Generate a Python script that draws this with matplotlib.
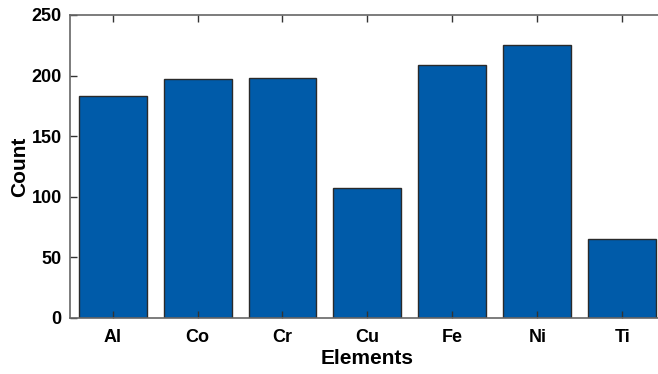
import matplotlib

matplotlib.use("Agg", force=True)
import matplotlib.pyplot as plt

elements = ["Al", "Co", "Cr", "Cu", "Fe", "Ni", "Ti"]
counts = [183, 197, 198, 107, 209, 225, 65]
y_ticks = [0, 50, 100, 150, 200, 250]

plt.rcParams["font.family"] = ["Liberation Sans", "DejaVu Sans"]
plt.rcParams["font.weight"] = "bold"

fig = plt.figure(figsize=(6.58, 3.74), dpi=100)
ax = fig.add_axes([0.1064, 0.1505, 0.9042, 0.8094])

positions = list(range(1, len(elements) + 1))
ax.bar(positions, counts, width=0.8, color="#005BA9", edgecolor="#2a2a2a", linewidth=1.0)

ax.set_xlim(0.5, len(elements) + 0.5)
ax.set_ylim(0, 250)
ax.set_xticks(positions)
ax.set_xticklabels(elements)
ax.set_yticks(y_ticks)

ax.tick_params(axis="both", direction="in", length=5, width=1, color="#333333",
               labelsize=13)
ax.tick_params(axis="x", top=True, pad=8)
ax.tick_params(axis="y", pad=6)
for label in ax.get_xticklabels() + ax.get_yticklabels():
    label.set_fontweight("bold")

for spine in ax.spines.values():
    spine.set_color("#666666")
    spine.set_linewidth(1.2)

ax.set_xlabel("Elements", fontsize=15, fontweight="bold", labelpad=2)
ax.set_ylabel("Count", fontsize=15, fontweight="bold", labelpad=2)

fig.savefig("out.png", dpi=100)
plt.close(fig)
